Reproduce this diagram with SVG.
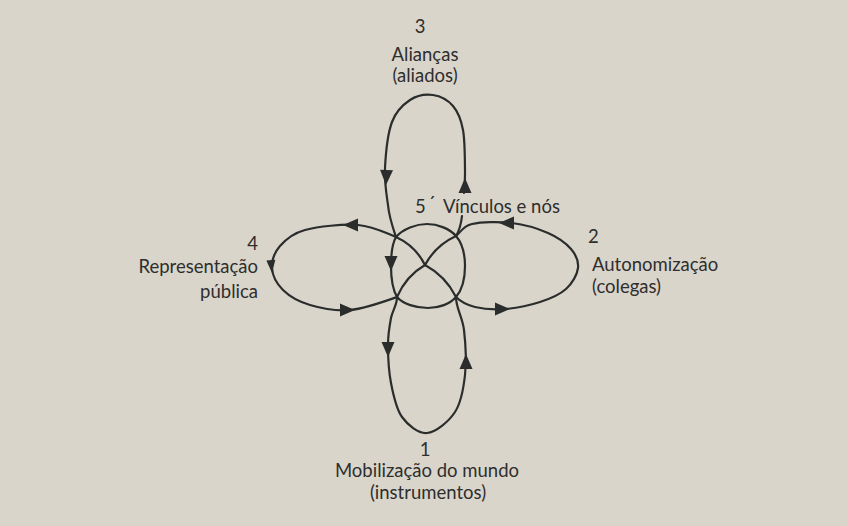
<svg xmlns="http://www.w3.org/2000/svg" xmlns:xlink="http://www.w3.org/1999/xlink" width="847" height="526" viewBox="0 0 847 526">
<style>
  .ln { fill: none; stroke: #2a2d2c; stroke-width: 2.2; stroke-linecap: round; stroke-linejoin: round; }
  .ah { fill: #2a2d2c; }
  .lbl { font-family: "Lato", "Open Sans", "Liberation Sans", sans-serif; font-size: 18.5px; fill: #2e2e2e; }
  .mid { text-anchor: middle; }
  .end { text-anchor: end; }
</style>
<defs>
  <path id="ah" class="ah" d="M0,0 L-15,-6.5 L-15,6.5 Z"/>
  <path id="ahs" class="ah" d="M0,0 L-13,-4.5 L-13,4.5 Z"/>
</defs>
<rect x="0" y="0" width="847" height="526" fill="#dad5ca"/>

<g id="connectors">
  <!-- central knot: outer arcs -->
  <path class="ln" d="M396,237 C403,229 416,224 427,224 C438,224 450,229 456,236"/>
  <path class="ln" d="M456,236 C462,243 465,255 465,266 C465,278 462,290 456,297"/>
  <path class="ln" d="M456,297 C450,304 439,308 428,308 C416,308 403,304 397,297"/>
  <path class="ln" d="M397,297 C393,290 391,277 391,266 C391,255 392,244 396,237"/>
  <!-- central knot: inner arcs -->
  <path class="ln" d="M396,237 Q415.5,246 425,265"/>
  <path class="ln" d="M456,236 Q435.5,245.5 425,265"/>
  <path class="ln" d="M425,265 Q406,276 397,297"/>
  <path class="ln" d="M425,265 Q445.5,276 456,297"/>
  <!-- loop 3 (top) -->
  <path class="ln" d="M396,237 C393,228 389,217 388,205 C386.3,193.5 384.3,181.8 385,168 C385.7,154.2 387.8,133.3 392,122 C396.2,110.7 403.2,104.5 410,100 C416.8,95.5 425.8,94 433,95 C440.2,96 448,100.2 453,106 C458,111.8 461,119.3 463,130 C465,140.7 464.8,159.5 465,170 C465.2,180.5 464.2,189.2 464,193"/>
  <path class="ln" d="M462,216 C461,225 459,231 456,236"/>
  <!-- loop 1 (bottom) -->
  <path class="ln" d="M397,297 C397,305.7 392.5,310 391,318 C389.5,326 388,334.2 388,345 C388,355.8 388.7,371 391,383 C393.3,395 396,408.7 402,417 C408,425.3 418.2,433.8 427,433 C435.8,432.2 448.7,421.7 455,412 C461.3,402.3 463.5,388.7 465,375 C466.5,361.3 465.5,343 464,330 C462.5,317 455.8,307.7 456,297"/>
  <!-- loop 4 (left) -->
  <path class="ln" d="M396,237 C385.7,233 373.2,226.2 358,225 C342.8,223.8 318,226.5 305,230 C292,233.5 285.5,239.7 280,246 C274.5,252.3 271.5,260.7 272,268 C272.5,275.3 276.7,283.8 283,290 C289.3,296.2 298.8,301.7 310,305 C321.2,308.3 335.5,311.3 350,310 C364.5,308.7 385.3,301.2 397,297"/>
  <!-- loop 2 (right) -->
  <path class="ln" d="M456,297 C461,302 466.8,305 475,307 C483.2,309 494.2,309.8 505,309 C515.8,308.2 529.8,305.3 540,302 C550.2,298.7 559.7,294.7 566,289 C572.3,283.3 577.2,274.7 578,268 C578.8,261.3 576,254.8 571,249 C566,243.2 557.8,237.3 548,233 C538.2,228.7 524.7,224.5 512,223 C499.3,221.5 481.3,221.8 472,224 C462.7,226.2 461,232 456,236"/>
  <!-- arrowheads -->
  <use xlink:href="#ah" transform="translate(386,185) rotate(92)"/>
  <use xlink:href="#ah" transform="translate(465,178) rotate(-90)"/>
  <use xlink:href="#ah" transform="translate(391,271) rotate(90)"/>
  <use xlink:href="#ah" transform="translate(388,357) rotate(90)"/>
  <use xlink:href="#ah" transform="translate(466,354) rotate(-90)"/>
  <use xlink:href="#ah" transform="translate(343,225) rotate(180)"/>
  <use xlink:href="#ahs" transform="translate(272,273) rotate(85)"/>
  <use xlink:href="#ah" transform="translate(355,310)"/>
  <use xlink:href="#ah" transform="translate(499,223) rotate(180)"/>
  <use xlink:href="#ah" transform="translate(510,309)"/>
</g>

<g id="node-3">
  <text class="lbl mid" x="420" y="33">3</text>
  <text class="lbl mid" x="425" y="61">Alianças</text>
  <text class="lbl mid" x="425" y="82">(aliados)</text>
</g>
<g id="node-5">
  <text class="lbl" x="415" y="213">5</text>
  <text class="lbl" x="428" y="210" font-size="12">´</text>
  <text class="lbl" x="443" y="213">Vínculos e nós</text>
</g>
<g id="node-2">
  <text class="lbl" x="588" y="243">2</text>
  <text class="lbl" x="592" y="271">Autonomização</text>
  <text class="lbl" x="592" y="293">(colegas)</text>
</g>
<g id="node-4">
  <text class="lbl end" x="258" y="250">4</text>
  <text class="lbl end" x="258" y="273">Representação</text>
  <text class="lbl end" x="258" y="298">pública</text>
</g>
<g id="node-1">
  <text class="lbl mid" x="425" y="456">1</text>
  <text class="lbl mid" x="427" y="477">Mobilização do mundo</text>
  <text class="lbl mid" x="428" y="499">(instrumentos)</text>
</g>
</svg>
